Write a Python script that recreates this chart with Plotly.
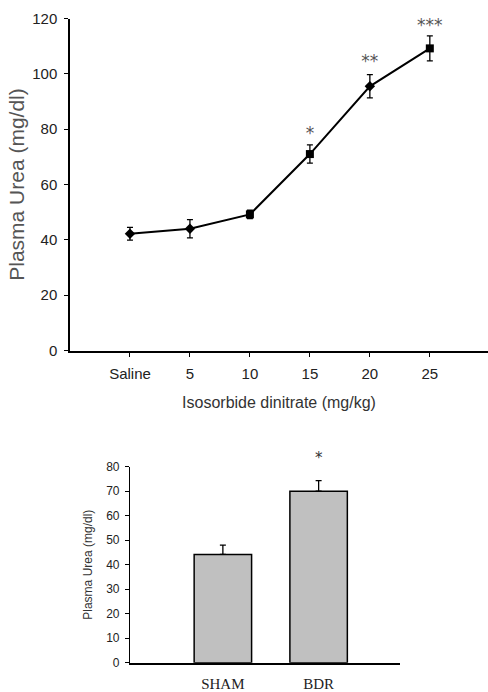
import plotly.graph_objects as go

# Top panel data
doses = ["Saline", "5", "10", "15", "20", "25"]
urea_mean = [42.2, 44.0, 49.2, 71.0, 95.5, 109.2]
urea_err = [2.3, 3.3, 1.5, 3.3, 4.2, 4.5]
marker_symbols = ["diamond", "diamond", "square", "square", "diamond", "square"]
sig_labels = ["", "", "", "*", "**", "***"]
sig_y = [0, 0, 0, 78, 104, 117]

# Bottom panel data
groups = ["SHAM", "BDR"]
group_mean = [44.2, 70.0]
group_err = [3.8, 4.3]
group_sig = ["", "*"]

fig = go.Figure()

fig.add_trace(go.Scatter(
    x=list(range(len(doses))), y=urea_mean,
    mode="lines+markers",
    line=dict(color="black", width=2),
    marker=dict(color="black", size=8, symbol=marker_symbols),
    error_y=dict(type="data", array=urea_err, color="black", thickness=1.3, width=3),
    xaxis="x", yaxis="y", showlegend=False, cliponaxis=False,
))

fig.add_trace(go.Scatter(
    x=[i for i, s in enumerate(sig_labels) if s],
    y=[sig_y[i] for i, s in enumerate(sig_labels) if s],
    text=[s for s in sig_labels if s],
    mode="text", textfont=dict(family="DejaVu Sans", size=17, color="#555555"),
    xaxis="x", yaxis="y", showlegend=False, cliponaxis=False,
))

fig.add_trace(go.Bar(
    x=list(range(len(groups))), y=group_mean, width=0.6,
    marker=dict(color="#c0c0c0", line=dict(color="black", width=1.5)),
    error_y=dict(type="data", array=group_err, arrayminus=[0, 0], symmetric=False,
                 color="black", thickness=1.3, width=3),
    xaxis="x2", yaxis="y2", showlegend=False, cliponaxis=False,
))

# significance star placed above the error bar (anchor inside axis range)
for i, s in enumerate(group_sig):
    if s:
        fig.add_annotation(
            x=i, y=group_mean[i] + group_err[i], xref="x2", yref="y2",
            text=s, showarrow=False, yanchor="bottom", yshift=12,
            font=dict(family="DejaVu Sans", size=15, color="#333333"),
        )

W, H = 488, 692
tickfont = dict(family="Liberation Sans, Arial", size=15, color="#222222")

fig.update_layout(
    width=W, height=H,
    margin=dict(l=0, r=0, t=0, b=0, autoexpand=False),
    paper_bgcolor="white", plot_bgcolor="white",
    xaxis=dict(
        domain=[70 / W, 1.0], anchor="y", automargin=False,
        range=[-1, 5.97],
        tickmode="array", tickvals=list(range(len(doses))), ticktext=doses,
        showline=True, linecolor="black", linewidth=1.5,
        ticks="outside", ticklen=5, tickcolor="black", tickwidth=1,
        ticklabelstandoff=4,
        showgrid=False, zeroline=False, tickfont=tickfont,
        title=dict(text="Isosorbide dinitrate (mg/kg)",
                   font=dict(family="Liberation Sans, Arial", size=16, color="#333333"),
                   standoff=16),
    ),
    yaxis=dict(
        domain=[1 - 350.5 / H, 1 - 18.5 / H], anchor="x", automargin=False,
        range=[0, 120], tickvals=[0, 20, 40, 60, 80, 100, 120],
        showline=True, linecolor="black", linewidth=1.5,
        ticks="outside", ticklen=4, tickcolor="black", tickwidth=1,
        ticklabelstandoff=4,
        showgrid=False, zeroline=False, tickfont=tickfont,
        title=dict(text="Plasma Urea (mg/dl)",
                   font=dict(family="Liberation Sans, Arial", size=21, color="#555555"),
                   standoff=2),
    ),
    xaxis2=dict(
        domain=[130 / W, 400 / W], anchor="y2", automargin=False,
        range=[-0.97, 1.85],
        tickmode="array", tickvals=list(range(len(groups))), ticktext=groups,
        showline=True, linecolor="black", linewidth=1.5,
        ticks="", ticklabelstandoff=7, showgrid=False, zeroline=False,
        tickfont=dict(family="Liberation Serif, Times New Roman", size=15, color="#222222"),
    ),
    yaxis2=dict(
        domain=[1 - 662.7 / H, 1 - 466.7 / H], anchor="x2", automargin=False,
        range=[0, 80], tickvals=[0, 10, 20, 30, 40, 50, 60, 70, 80],
        showline=True, linecolor="black", linewidth=1.2,
        ticks="outside", ticklen=4, tickcolor="black", tickwidth=1,
        ticklabelstandoff=3,
        showgrid=False, zeroline=False,
        tickfont=dict(family="Liberation Sans, Arial", size=12, color="#222222"),
        title=dict(text="Plasma Urea (mg/dl)",
                   font=dict(family="Liberation Sans, Arial", size=12, color="#333333"),
                   standoff=10),
    ),
)

fig.write_html(
    "out.html",
    config={"displayModeBar": False},
    post_script="document.body.style.margin='0px';document.body.style.overflow='hidden';",
)
